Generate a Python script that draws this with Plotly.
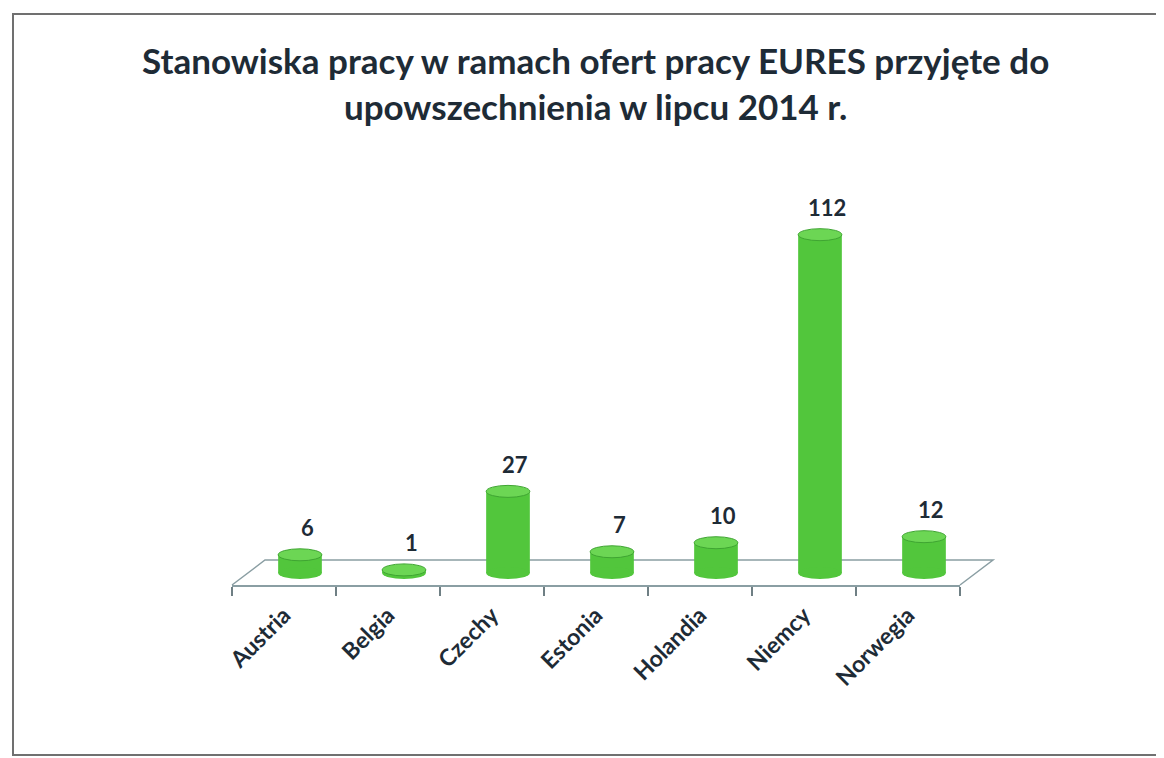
import plotly.graph_objects as go

categories = ["Austria", "Belgia", "Czechy", "Estonia", "Holandia", "Niemcy", "Norwegia"]
values = [6, 1, 27, 7, 10, 112, 12]
title_lines = ["Stanowiska pracy w ramach ofert pracy EURES przyjęte do",
               "upowszechnienia w lipcu 2014 r."]

W, H = 1164, 758
OFF = 8  # page body margin in the browser
ML, MR, MT = 232 - OFF, 204 + OFF, 190 - OFF
MB = H - (585 - OFF)
plot_w = W - ML - MR
plot_h = H - MT - MB
px_per_cat = plot_w / len(categories)


def px_x(px):
    return (px - OFF - ML) / plot_w


def px_y(py):
    return (H - MB - (py - OFF)) / plot_h


y_lo, px_per_unit = -4.0, 3.02
y_hi = y_lo + plot_h / px_per_unit

bar_width = 0.42
bar_shift = 16 / px_per_cat          # depth shift of bars to the middle of the floor
label_shift = 7 / px_per_cat
cap_half = 6 / px_per_unit           # half height of elliptical caps

body = "#52C63C"
top_col = "#6CD654"
edge = "#3FA532"
text_col = "#1E2B36"
font_fam = "Lato, 'Open Sans', sans-serif"

fig = go.Figure()
fig.add_trace(go.Bar(
    x=categories, y=values,
    width=bar_width, offset=bar_shift - bar_width / 2,
    marker=dict(color=body, line=dict(width=0)),
    hoverinfo="x+y", showlegend=False,
))

shapes = []
# floor parallelogram (front edge is the x axis line)
dx = 33 / plot_w
dy = 25 / plot_h
shapes.append(dict(type="path", xref="paper", yref="paper",
                   path=f"M 1 0 L {1+dx} {dy} L {dx} {dy} L 0 0",
                   line=dict(color="#8A9EA3", width=1.5), layer="below"))
# bottom and top elliptical caps of the cylinders
for i, v in enumerate(values):
    c = i + bar_shift
    shapes.append(dict(type="circle", xref="x2", yref="y",
                       x0=c - bar_width / 2, x1=c + bar_width / 2,
                       y0=-cap_half, y1=cap_half,
                       fillcolor=body, line=dict(width=0), layer="above"))
    shapes.append(dict(type="circle", xref="x2", yref="y",
                       x0=c - bar_width / 2, x1=c + bar_width / 2,
                       y0=v - cap_half, y1=v + cap_half,
                       fillcolor=top_col, line=dict(color=edge, width=1), layer="above"))
# page frame
shapes.append(dict(type="rect", xref="paper", yref="paper",
                   x0=px_x(13), x1=px_x(1175), y0=px_y(755), y1=px_y(14),
                   line=dict(color="#707070", width=2), layer="below"))

annotations = []
for i, v in enumerate(values):
    annotations.append(dict(x=i + bar_shift + label_shift, y=v, xref="x2", yref="y",
                            text=f"<b>{v}</b>", showarrow=False, yshift=27,
                            font=dict(family=font_fam, size=22, color=text_col)))
annotations.append(dict(xref="paper", yref="paper",
                        x=px_x(595), y=px_y(83), xanchor="center", yanchor="middle",
                        text="<b>" + "<br>".join(title_lines) + "</b>",
                        showarrow=False, align="center",
                        font=dict(family=font_fam, size=35, color=text_col)))

fig.update_layout(
    width=W, height=H,
    margin=dict(l=ML, r=MR, t=MT, b=MB),
    paper_bgcolor="white", plot_bgcolor="rgba(0,0,0,0)",
    shapes=shapes, annotations=annotations,
    xaxis=dict(type="category", range=[-0.5, len(categories) - 0.5],
               tickson="boundaries", ticks="outside", ticklen=9, tickwidth=1.5,
               tickcolor="#6F7F84", showline=True, linecolor="#8A9EA3", linewidth=1.5,
               tickangle=-45, ticklabelstandoff=6,
               tickfont=dict(family=font_fam, size=23, color=text_col, weight="bold"),
               showgrid=False, zeroline=False),
    xaxis2=dict(overlaying="x", range=[-0.5, len(categories) - 0.5], visible=False),
    yaxis=dict(range=[y_lo, y_hi], visible=False, showgrid=False, zeroline=False),
    bargap=0.5,
)

fig.write_html("out.html")
